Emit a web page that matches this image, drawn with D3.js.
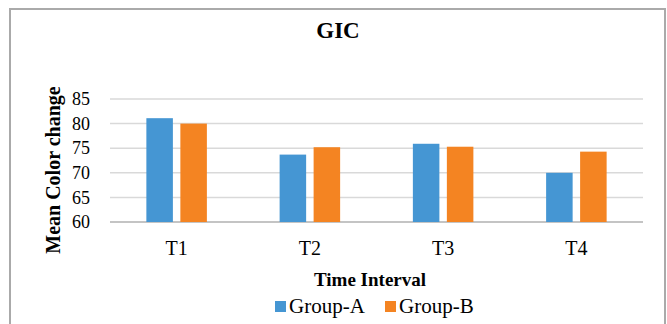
<!DOCTYPE html>
<html><head><meta charset="utf-8">
<script src="https://cdn.jsdelivr.net/npm/d3@7"></script>
<style>body{margin:0;background:#fff}svg{display:block}text{font-family:"Liberation Serif","Times New Roman",serif;fill:#000}</style>
</head><body><svg id="c" width="667" height="324"></svg>
<script>
const categories = ["T1","T2","T3","T4"];
const seriesNames = ["Group-A","Group-B"];
const groupA = [81.1, 73.7, 75.9, 70.0];
const groupB = [80.0, 75.2, 75.3, 74.3];
const yTicks = [60,65,70,75,80,85];
const colors = ["#4596D3","#F48422"];

const svg = d3.select("#c");
svg.append("rect").attr("x",10).attr("y",9).attr("width",655).attr("height",330)
  .attr("fill","#fff").attr("stroke","#aaa").attr("stroke-width",2);

const x = d3.scaleBand().domain(categories).range([110,643]);
const y = d3.scaleLinear().domain([60,85]).range([222,99]);
const xs = d3.scaleBand().domain(seriesNames).range([0,x.bandwidth()]).paddingInner(0.22).paddingOuter(1.07);

svg.append("g").selectAll("line").data(yTicks).join("line")
  .attr("x1",110).attr("x2",643).attr("y1",d=>y(d)).attr("y2",d=>y(d))
  .attr("stroke",d=>d===60?"#b0b0b0":"#d9d9d9").attr("stroke-width",1.5);

const data = categories.map((c,i)=>({c, vals:[groupA[i],groupB[i]]}));
svg.append("g").selectAll("g").data(data).join("g")
  .attr("transform",d=>`translate(${x(d.c)},0)`)
  .selectAll("rect").data(d=>d.vals.map((v,j)=>({v,s:seriesNames[j],j})))
  .join("rect")
  .attr("x",d=>xs(d.s)).attr("width",xs.bandwidth())
  .attr("y",d=>y(d.v)).attr("height",d=>y(60)-y(d.v))
  .attr("fill",d=>colors[d.j]);

const yAxis = d3.axisLeft(y).tickValues(yTicks).tickSize(0).tickPadding(0);
const ya = svg.append("g").attr("transform","translate(90,0)").call(yAxis);
ya.select(".domain").remove();
ya.selectAll("text").style("font-size","18px").style("font-family","'Liberation Serif',serif");

const xAxis = d3.axisBottom(x).tickSize(0).tickPadding(0);
const xa = svg.append("g").call(xAxis);
xa.select(".domain").remove();
xa.selectAll("text").attr("dy",null).attr("y",255).style("font-size","20px").style("font-family","'Liberation Serif',serif");

svg.append("text").attr("x",338).attr("y",38).attr("text-anchor","middle")
  .style("font-size","23px").style("font-weight","bold").text("GIC");
svg.append("text").attr("transform","translate(60,170) rotate(-90)").attr("text-anchor","middle")
  .style("font-size","20px").style("font-weight","bold").text("Mean Color change");
svg.append("text").attr("x",370).attr("y",286).attr("text-anchor","middle")
  .style("font-size","19px").style("font-weight","bold").text("Time Interval");

const lg = svg.append("g");
const legX = [275, 385];
seriesNames.forEach((s,i)=>{
  lg.append("rect").attr("x",legX[i]).attr("y",301).attr("width",11).attr("height",11).attr("fill",colors[i]);
  lg.append("text").attr("x",legX[i]+14).attr("y",313).style("font-size","21px").text(s);
});
</script></body></html>
